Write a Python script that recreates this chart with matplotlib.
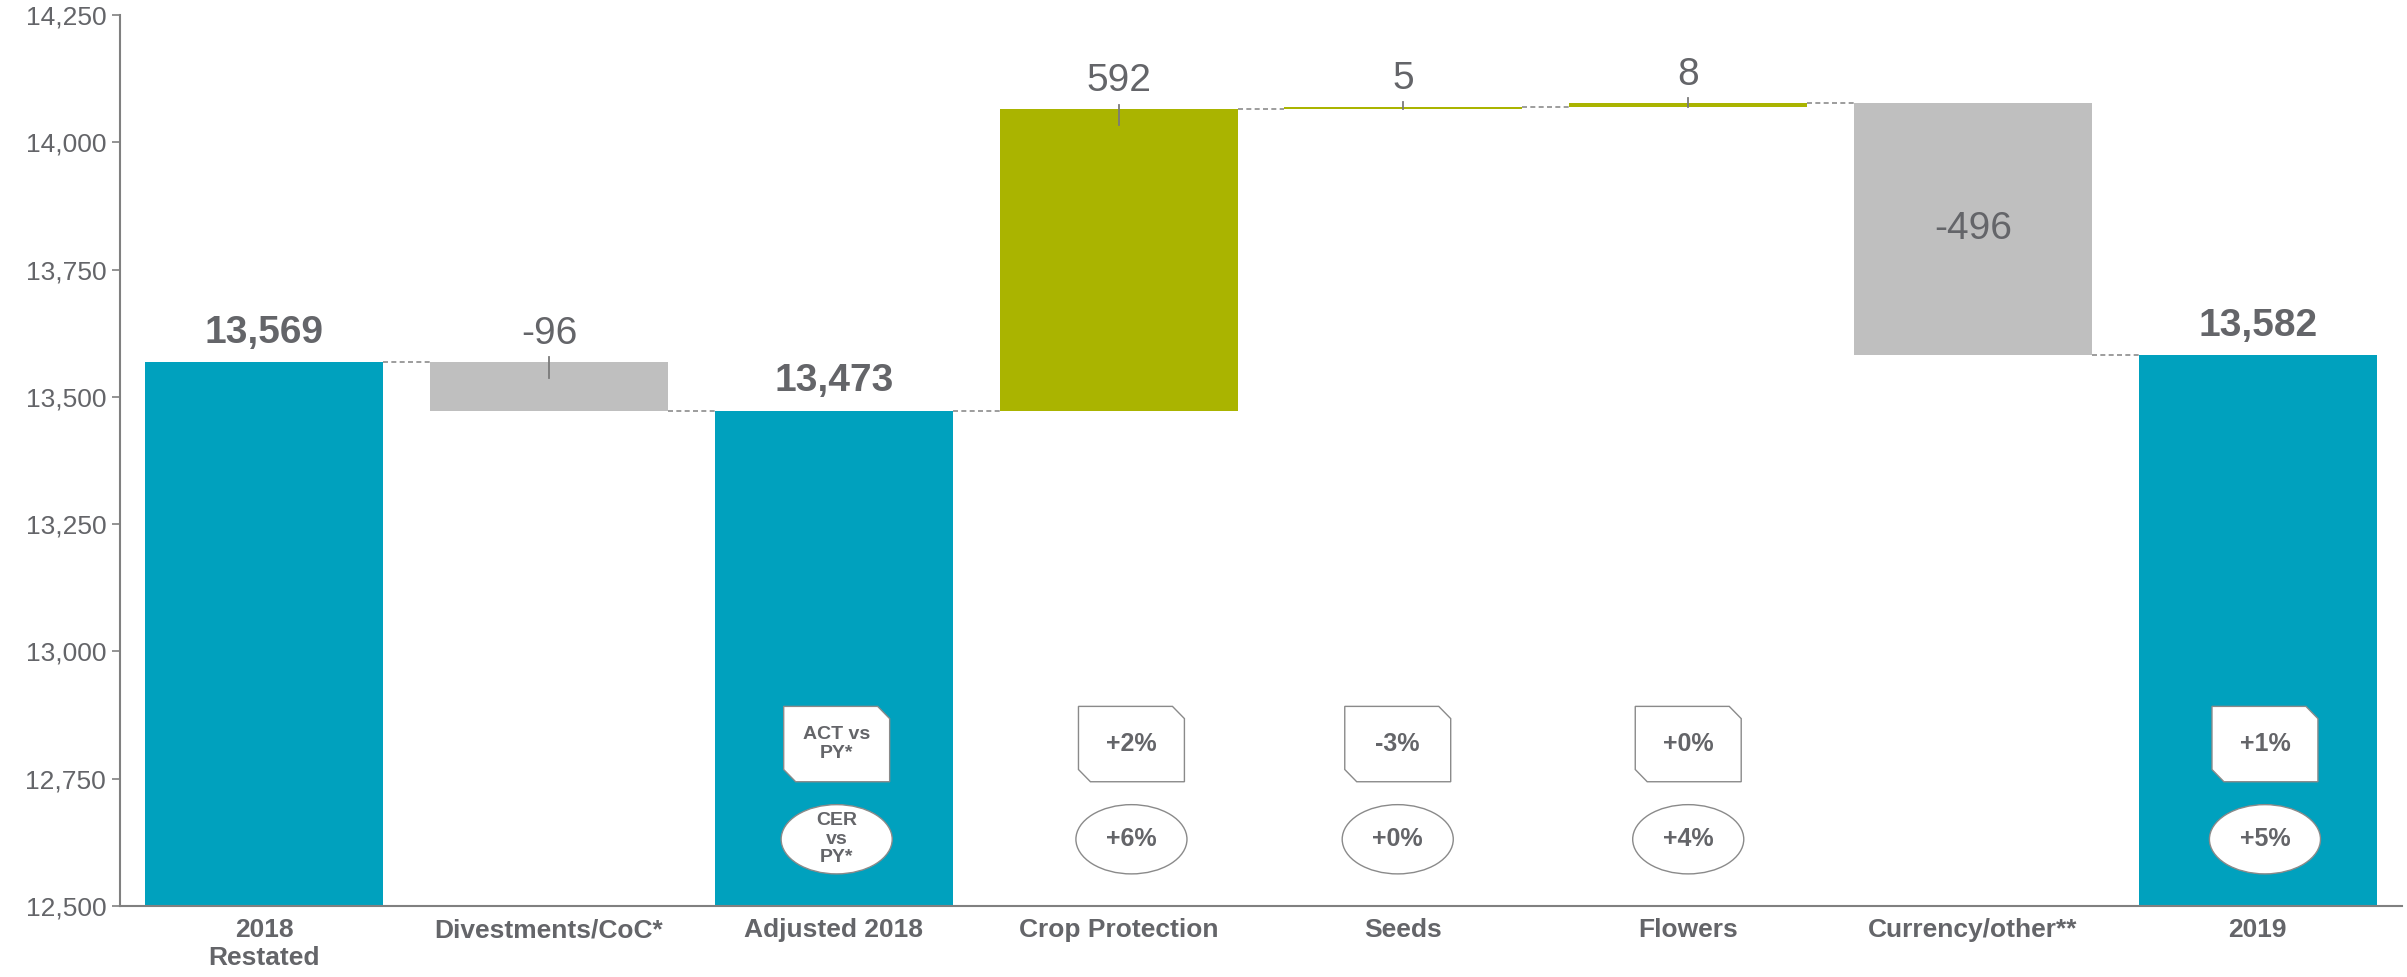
import numpy as np
import matplotlib
matplotlib.use("Agg")
import matplotlib.pyplot as plt
from matplotlib import font_manager as fm
from matplotlib.patches import Ellipse, Polygon
from matplotlib.ticker import FuncFormatter

# data
categories = ['2018\nRestated', 'Divestments/CoC*', 'Adjusted 2018', 'Crop Protection',
              'Seeds', 'Flowers', 'Currency/other**', '2019']
values = [13569, -96, 13473, 592, 5, 8, -496, 13582]
is_total = [True, False, True, False, False, False, False, True]
label_inside = [False, False, False, False, False, False, True, False]
act_labels = [None, None, 'ACT vs\nPY*', '+2%', '-3%', '+0%', None, '+1%']
cer_labels = [None, None, 'CER\nvs\nPY*', '+6%', '+0%', '+4%', None, '+5%']
box_dx = [0, 0, 0.01, 0.045, -0.02, 0, 0, 0.025]

TEAL = '#00A1BE'
GREEN = '#AAB400'
GREY_BAR = '#BFBFBF'
TXT = '#646569'
AX = '#808080'

names = {f.name for f in fm.fontManager.ttflist}
narrow = 'Liberation Sans Narrow' if 'Liberation Sans Narrow' in names else 'Liberation Sans'
plt.rcParams['font.family'] = ['Liberation Sans', 'DejaVu Sans']

fig = plt.figure(figsize=(24.07, 9.77), dpi=100)
ax = fig.add_axes([0.0499, 0.0727, 0.948, 0.912])

x = np.arange(len(categories))
width = 0.836

# running totals -> bottoms/tops
bottoms, tops, colors = [], [], []
level = 0
for v, tot in zip(values, is_total):
    if tot:
        bottoms.append(0)
        tops.append(v)
        colors.append(TEAL)
        level = v
    else:
        new = level + v
        bottoms.append(min(level, new))
        tops.append(max(level, new))
        colors.append(GREEN if v > 0 else GREY_BAR)
        level = new
bottoms = np.array(bottoms)
tops = np.array(tops)

ax.bar(x, tops - bottoms, width, bottom=bottoms, color=colors, zorder=2)

# connectors
level = values[0]
for i in range(len(values) - 1):
    nxt = level + values[i + 1] if not is_total[i + 1] else values[i + 1]
    ax.plot([x[i] + width / 2, x[i + 1] - width / 2], [level, level],
            color='#8c8c8c', lw=1.2, ls=(0, (3, 2)), zorder=1)
    level = nxt

# value labels
for i, v in enumerate(values):
    if is_total[i]:
        ax.annotate(f'{v:,}', (x[i], tops[i]), xytext=(0, 8), textcoords='offset points',
                    ha='center', va='bottom', fontsize=28, fontweight='bold', color=TXT)
    elif label_inside[i]:
        ax.text(x[i], (tops[i] + bottoms[i]) / 2, f'{v:,}', ha='center', va='center',
                fontsize=28, color=TXT, family=narrow)
    else:
        lo = max(bottoms[i], tops[i] - 32)
        ax.plot([x[i], x[i]], [lo, tops[i] + 9], color='#7a7a7a', lw=1.3, zorder=3)
        ax.annotate(f'{v:,}', (x[i], tops[i]), xytext=(0, 7), textcoords='offset points',
                    ha='center', va='bottom', fontsize=28, color=TXT, family=narrow)

# ACT / CER annotations
bw, bh = 0.372, 148
by0 = 12744
snx, sny = 0.042, 24
for i in range(len(categories)):
    if act_labels[i] is None:
        continue
    xc = x[i] + box_dx[i]
    x0, x1 = xc - bw / 2, xc + bw / 2
    y0, y1 = by0, by0 + bh
    verts = [(x0, y0 + sny), (x0, y1), (x1 - snx, y1), (x1, y1 - sny), (x1, y0), (x0 + snx, y0)]
    ax.add_patch(Polygon(verts, closed=True, facecolor='white', edgecolor='#8a8a8a', lw=1.0, zorder=4))
    fs = 14 if '\n' in act_labels[i] else 18
    ax.text(xc, by0 + bh / 2, act_labels[i], ha='center', va='center', fontsize=fs,
            fontweight='bold', color=TXT, zorder=5, linespacing=1.1)
    ax.add_patch(Ellipse((xc, 12631), 0.39, 136, facecolor='white', edgecolor='#8a8a8a',
                         lw=1.0, zorder=4))
    fs = 14 if '\n' in cer_labels[i] else 18
    ax.text(xc, 12631, cer_labels[i], ha='center', va='center', fontsize=fs,
            fontweight='bold', color=TXT, zorder=5, linespacing=1.1)

ax.set_xlim(-0.506, 7.506)
ax.set_ylim(12500, 14250)
ax.set_yticks(np.arange(12500, 14251, 250))
ax.yaxis.set_major_formatter(FuncFormatter(lambda v, p: f'{int(v):,}'))
ax.set_xticks(x)
ax.set_xticklabels(categories, fontsize=19, fontweight='bold', color=TXT, family=narrow,
                   linespacing=1.2)
ax.tick_params(axis='x', length=0, pad=9)
ax.tick_params(axis='y', length=6, width=1.2, color=AX, labelsize=19, labelcolor=TXT, pad=4)
for lab in ax.get_yticklabels():
    lab.set_family(narrow)
for s in ['top', 'right']:
    ax.spines[s].set_visible(False)
for s in ['left', 'bottom']:
    ax.spines[s].set_color(AX)
    ax.spines[s].set_linewidth(1.5)

fig.savefig('out.png', dpi=100)
